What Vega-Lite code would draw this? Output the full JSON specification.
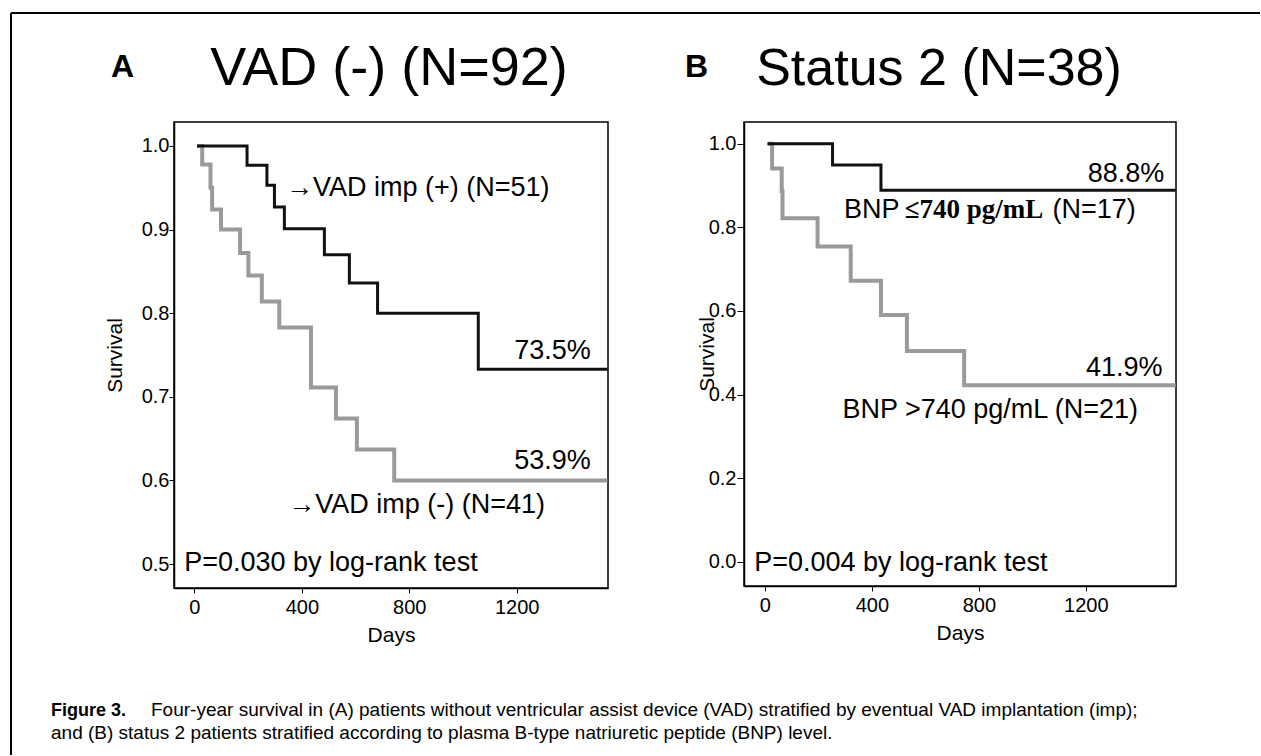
{
  "$schema": "https://vega.github.io/schema/vega-lite/v6.json",
  "background": "white",
  "padding": {"left": 9, "top": 11, "right": 0, "bottom": 0},
  "config": {
    "font": "Liberation Sans",
    "view": {"stroke": "#000", "strokeWidth": 1.5},
    "axis": {"grid": false, "domainColor": "#000", "domainWidth": 1.5, "tickColor": "#000", "tickWidth": 1, "labelColor": "#000", "titleColor": "#000", "labelFont": "Liberation Sans", "titleFont": "Liberation Sans", "labelFontSize": 20, "titleFontSize": 21, "titleFontWeight": "normal", "tickSize": 5, "labelPadding": 0},
    "text": {"font": "Liberation Sans", "color": "#000"}
  },
  "datasets": {
    "km": [
      {"panel": "A", "group": "pos", "day": 10, "surv": 1.0},
      {"panel": "A", "group": "pos", "day": 196, "surv": 0.977},
      {"panel": "A", "group": "pos", "day": 270, "surv": 0.953},
      {"panel": "A", "group": "pos", "day": 298, "surv": 0.927},
      {"panel": "A", "group": "pos", "day": 335, "surv": 0.901},
      {"panel": "A", "group": "pos", "day": 484, "surv": 0.870},
      {"panel": "A", "group": "pos", "day": 577, "surv": 0.836},
      {"panel": "A", "group": "pos", "day": 682, "surv": 0.800},
      {"panel": "A", "group": "pos", "day": 1057, "surv": 0.733},
      {"panel": "A", "group": "pos", "day": 1538, "surv": 0.733},
      {"panel": "A", "group": "neg", "day": 10, "surv": 1.0},
      {"panel": "A", "group": "neg", "day": 29, "surv": 0.978},
      {"panel": "A", "group": "neg", "day": 60, "surv": 0.950},
      {"panel": "A", "group": "neg", "day": 66, "surv": 0.924},
      {"panel": "A", "group": "neg", "day": 99, "surv": 0.900},
      {"panel": "A", "group": "neg", "day": 170, "surv": 0.872},
      {"panel": "A", "group": "neg", "day": 201, "surv": 0.845},
      {"panel": "A", "group": "neg", "day": 251, "surv": 0.814},
      {"panel": "A", "group": "neg", "day": 316, "surv": 0.783},
      {"panel": "A", "group": "neg", "day": 434, "surv": 0.711},
      {"panel": "A", "group": "neg", "day": 527, "surv": 0.674},
      {"panel": "A", "group": "neg", "day": 605, "surv": 0.637},
      {"panel": "A", "group": "neg", "day": 744, "surv": 0.600},
      {"panel": "A", "group": "neg", "day": 1538, "surv": 0.600},
      {"panel": "B", "group": "low", "day": 10, "surv": 1.0},
      {"panel": "B", "group": "low", "day": 253, "surv": 0.949},
      {"panel": "B", "group": "low", "day": 434, "surv": 0.889},
      {"panel": "B", "group": "low", "day": 1536, "surv": 0.889},
      {"panel": "B", "group": "high", "day": 10, "surv": 1.0},
      {"panel": "B", "group": "high", "day": 27, "surv": 0.941},
      {"panel": "B", "group": "high", "day": 63, "surv": 0.887},
      {"panel": "B", "group": "high", "day": 66, "surv": 0.822},
      {"panel": "B", "group": "high", "day": 197, "surv": 0.754},
      {"panel": "B", "group": "high", "day": 321, "surv": 0.672},
      {"panel": "B", "group": "high", "day": 434, "surv": 0.590},
      {"panel": "B", "group": "high", "day": 531, "surv": 0.504},
      {"panel": "B", "group": "high", "day": 745, "surv": 0.422},
      {"panel": "B", "group": "high", "day": 1536, "surv": 0.422}
    ]
  },
  "spacing": 136,
  "bounds": "flush",
  "hconcat": [
    {
      "width": 434, "height": 466,
      "layer": [
        {"data": {"name": "km"}, "transform": [{"filter": "datum.panel == 'A' && datum.group == 'neg'"}],
         "mark": {"type": "line", "interpolate": "step-after", "color": "#9a9a9a", "strokeWidth": 4},
         "encoding": {
           "x": {"field": "day", "type": "quantitative", "scale": {"domain": [-76, 1540], "nice": false, "zero": false}, "axis": {"values": [0, 400, 800, 1200], "format": "d", "title": "Days", "titlePadding": 7, "labelPadding": 4}},
           "y": {"field": "surv", "type": "quantitative", "scale": {"domain": [0.4713, 1.0287], "nice": false, "zero": false}, "axis": {"values": [0.5, 0.6, 0.7, 0.8, 0.9, 1.0], "format": ".1f", "title": "Survival", "titlePadding": 16}}
         }},
        {"data": {"name": "km"}, "transform": [{"filter": "datum.panel == 'A' && datum.group == 'pos'"}],
         "mark": {"type": "line", "interpolate": "step-after", "color": "#111111", "strokeWidth": 3},
         "encoding": {"x": {"field": "day", "type": "quantitative"}, "y": {"field": "surv", "type": "quantitative"}}},
        {"data": {"values": [{"edge": "top"}]}, "mark": {"type": "rule", "color": "#000", "strokeWidth": 2},
         "encoding": {"x": {"datum": -682.9, "type": "quantitative"}, "x2": {"datum": 3967.7}, "y": {"datum": 1.1591, "type": "quantitative"}}},
        {"data": {"values": [{"edge": "left"}]}, "mark": {"type": "rule", "color": "#000", "strokeWidth": 2},
         "encoding": {"x": {"datum": -682.9, "type": "quantitative"}, "y": {"datum": 1.1591, "type": "quantitative"}, "y2": {"datum": 0.2715}}},
        {"data": {"values": [{"label": "A"}]}, "mark": {"type": "text", "fontSize": 32, "fontWeight": "bold", "align": "left", "baseline": "alphabetic"},
         "encoding": {"text": {"field": "label"}, "x": {"datum": -310.6, "type": "quantitative"}, "y": {"datum": 1.0825, "type": "quantitative"}}},
        {"data": {"values": [{"label": "VAD (-) (N=92)"}]}, "mark": {"type": "text", "fontSize": 54, "align": "center", "baseline": "alphabetic"},
         "encoding": {"text": {"field": "label"}, "x": {"datum": 724.6, "type": "quantitative"}, "y": {"datum": 1.073, "type": "quantitative"}}},
        {"data": {"values": [{"label": "→VAD imp (+) (N=51)"}]}, "mark": {"type": "text", "fontSize": 27, "align": "left", "baseline": "alphabetic"},
         "encoding": {"text": {"field": "label"}, "x": {"datum": 341, "type": "quantitative"}, "y": {"datum": 0.9402, "type": "quantitative"}}},
        {"data": {"values": [{"label": "73.5%"}]}, "mark": {"type": "text", "fontSize": 27, "align": "right", "baseline": "alphabetic"},
         "encoding": {"text": {"field": "label"}, "x": {"datum": 1476, "type": "quantitative"}, "y": {"datum": 0.7452, "type": "quantitative"}}},
        {"data": {"values": [{"label": "53.9%"}]}, "mark": {"type": "text", "fontSize": 27, "align": "right", "baseline": "alphabetic"},
         "encoding": {"text": {"field": "label"}, "x": {"datum": 1476, "type": "quantitative"}, "y": {"datum": 0.6136, "type": "quantitative"}}},
        {"data": {"values": [{"label": "→VAD imp (-) (N=41)"}]}, "mark": {"type": "text", "fontSize": 27, "align": "left", "baseline": "alphabetic"},
         "encoding": {"text": {"field": "label"}, "x": {"datum": 349, "type": "quantitative"}, "y": {"datum": 0.5614, "type": "quantitative"}}},
        {"data": {"values": [{"label": "P=0.030 by log-rank test"}]}, "mark": {"type": "text", "fontSize": 27, "align": "left", "baseline": "alphabetic"},
         "encoding": {"text": {"field": "label"}, "x": {"datum": -38, "type": "quantitative"}, "y": {"datum": 0.4916, "type": "quantitative"}}},
        {"data": {"values": [{"label": "Figure 3."}]}, "mark": {"type": "text", "fontSize": 18, "fontWeight": "bold", "align": "left", "baseline": "alphabetic"},
         "encoding": {"text": {"field": "label"}, "x": {"datum": -534, "type": "quantitative"}, "y": {"datum": 0.3182, "type": "quantitative"}}},
        {"data": {"values": [{"label": "Four-year survival in (A) patients without ventricular assist device (VAD) stratified by eventual VAD implantation (imp);"}]}, "mark": {"type": "text", "fontSize": 19, "align": "left", "baseline": "alphabetic"},
         "encoding": {"text": {"field": "label"}, "x": {"datum": -161.6, "type": "quantitative"}, "y": {"datum": 0.3182, "type": "quantitative"}}},
        {"data": {"values": [{"label": "and (B) status 2 patients stratified according to plasma B-type natriuretic peptide (BNP) level."}]}, "mark": {"type": "text", "fontSize": 19, "align": "left", "baseline": "alphabetic"},
         "encoding": {"text": {"field": "label"}, "x": {"datum": -534, "type": "quantitative"}, "y": {"datum": 0.2907, "type": "quantitative"}}}
      ]
    },
    {
      "width": 432, "height": 464,
      "layer": [
        {"data": {"name": "km"}, "transform": [{"filter": "datum.panel == 'B' && datum.group == 'high'"}],
         "mark": {"type": "line", "interpolate": "step-after", "color": "#9a9a9a", "strokeWidth": 4},
         "encoding": {
           "x": {"field": "day", "type": "quantitative", "scale": {"domain": [-78, 1537], "nice": false, "zero": false}, "axis": {"values": [0, 400, 800, 1200], "format": "d", "title": "Days", "titlePadding": 7, "labelPadding": 4}},
           "y": {"field": "surv", "type": "quantitative", "scale": {"domain": [-0.058, 1.052], "nice": false, "zero": false}, "axis": {"values": [0, 0.2, 0.4, 0.6, 0.8, 1.0], "format": ".1f", "title": "Survival", "titlePadding": -9, "tickSize": 7, "labelPadding": 1}}
         }},
        {"data": {"name": "km"}, "transform": [{"filter": "datum.panel == 'B' && datum.group == 'low'"}],
         "mark": {"type": "line", "interpolate": "step-after", "color": "#111111", "strokeWidth": 3},
         "encoding": {"x": {"field": "day", "type": "quantitative"}, "y": {"field": "surv", "type": "quantitative"}}},
        {"data": {"values": [{"label": "B"}]}, "mark": {"type": "text", "fontSize": 32, "fontWeight": "bold", "align": "left", "baseline": "alphabetic"},
         "encoding": {"text": {"field": "label"}, "x": {"datum": -298.6, "type": "quantitative"}, "y": {"datum": 1.1597, "type": "quantitative"}}},
        {"data": {"values": [{"label": "Status 2 (N=38)"}]}, "mark": {"type": "text", "fontSize": 52, "align": "center", "baseline": "alphabetic"},
         "encoding": {"text": {"field": "label"}, "x": {"datum": 651, "type": "quantitative"}, "y": {"datum": 1.1405, "type": "quantitative"}}},
        {"data": {"values": [{"label": "88.8%"}]}, "mark": {"type": "text", "fontSize": 27, "align": "right", "baseline": "alphabetic"},
         "encoding": {"text": {"field": "label"}, "x": {"datum": 1493, "type": "quantitative"}, "y": {"datum": 0.9091, "type": "quantitative"}}},
        {"data": {"values": [{"label": "BNP"}]}, "mark": {"type": "text", "fontSize": 27, "align": "left", "baseline": "alphabetic"},
         "encoding": {"text": {"field": "label"}, "x": {"datum": 296, "type": "quantitative"}, "y": {"datum": 0.8215, "type": "quantitative"}}},
        {"data": {"values": [{"label": "≤740 pg/mL"}]}, "mark": {"type": "text", "font": "Liberation Serif", "fontWeight": "bold", "fontSize": 27, "align": "left", "baseline": "alphabetic"},
         "encoding": {"text": {"field": "label"}, "x": {"datum": 523, "type": "quantitative"}, "y": {"datum": 0.8215, "type": "quantitative"}}},
        {"data": {"values": [{"label": "(N=17)"}]}, "mark": {"type": "text", "fontSize": 27, "align": "left", "baseline": "alphabetic"},
         "encoding": {"text": {"field": "label"}, "x": {"datum": 1075, "type": "quantitative"}, "y": {"datum": 0.8215, "type": "quantitative"}}},
        {"data": {"values": [{"label": "41.9%"}]}, "mark": {"type": "text", "fontSize": 27, "align": "right", "baseline": "alphabetic"},
         "encoding": {"text": {"field": "label"}, "x": {"datum": 1487, "type": "quantitative"}, "y": {"datum": 0.4443, "type": "quantitative"}}},
        {"data": {"values": [{"label": "BNP >740 pg/mL (N=21)"}]}, "mark": {"type": "text", "fontSize": 27, "align": "left", "baseline": "alphabetic"},
         "encoding": {"text": {"field": "label"}, "x": {"datum": 290, "type": "quantitative"}, "y": {"datum": 0.3431, "type": "quantitative"}}},
        {"data": {"values": [{"label": "P=0.004 by log-rank test"}]}, "mark": {"type": "text", "fontSize": 27, "align": "left", "baseline": "alphabetic"},
         "encoding": {"text": {"field": "label"}, "x": {"datum": -40, "type": "quantitative"}, "y": {"datum": -0.0222, "type": "quantitative"}}}
      ]
    }
  ]
}
